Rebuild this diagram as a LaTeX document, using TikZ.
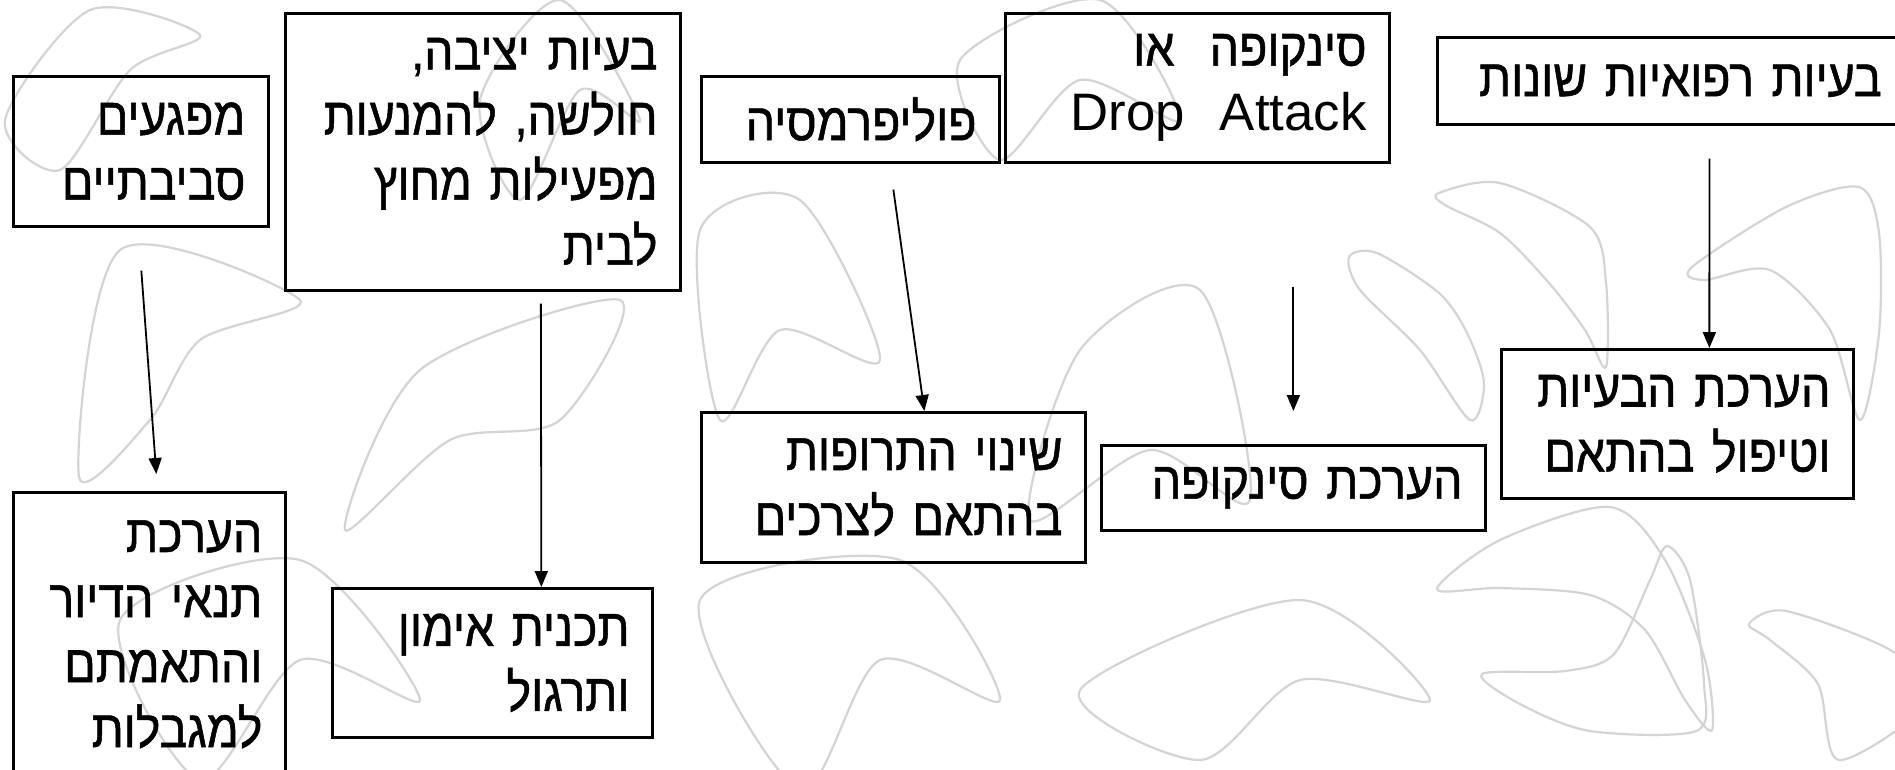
\documentclass[tikz,border=0pt]{standalone}
\usepackage{fontspec}
\setmainfont{Liberation Sans}
\newfontfamily\hebfont[Script=Hebrew, FakeStretch=0.88, FakeBold=1]{Liberation Sans}
\TeXXeTstate=1
\usetikzlibrary{arrows.meta,calc}

% one right-to-left line, never broken
\newcommand{\heb}[1]{\leavevmode\hbox{\hebfont\beginR#1\endR}}

\tikzset{
  box/.style={draw, line width=0.025cm, inner xsep=0.23cm, inner ysep=0pt,
    align=right, anchor=north west, font=\fontsize{15}{18.5}\selectfont},
  flow/.style={-{Triangle[length=0.16cm,width=0.13cm]}, line width=0.018cm},
  swirl/.style={black!17, line width=0.022cm},
}

\begin{document}
\begin{tikzpicture}[x=0.01cm, y=-0.01cm]
\fill[white] (0,0) rectangle (1895,769);
\clip (0,0) rectangle (1895,769);
% background squiggles
\draw[swirl] plot[smooth cycle] coordinates {(5,120) (90,10) (200,35) (130,70) (60,170)};
\draw[swirl] plot[smooth cycle] coordinates {(79,477) (120,250) (300,300) (200,340) (150,420)};
\draw[swirl] plot[smooth cycle] coordinates {(345,530) (420,370) (620,300) (560,420) (450,440)};
\draw[swirl] plot[smooth cycle] coordinates {(700,230) (800,200) (880,360) (780,330) (720,420)};
\draw[swirl] plot[smooth cycle] coordinates {(1080,350) (1200,290) (1250,500) (1150,450) (1030,520)};
\draw[swirl] plot[smooth cycle] coordinates {(1080,690) (1300,600) (1430,700) (1300,680) (1200,760)};
\draw[swirl] plot[smooth cycle] coordinates {(120,620) (300,560) (420,700) (300,660) (200,780)};
\draw[swirl] plot[smooth cycle] coordinates {(700,600) (900,560) (1000,700) (880,660) (800,790)};
\draw[swirl] plot[smooth cycle] coordinates {(480,100) (560,0) (640,120) (580,90) (520,200)};
\draw[swirl] plot[smooth cycle] coordinates {(960,60) (1100,0) (1180,120) (1080,80) (1000,160)};
\draw[swirl] plot[smooth cycle] coordinates {(1437,589) (1500,540) (1610,507) (1665,560) (1705,660) (1712,730) (1685,700) (1645,630) (1590,595) (1500,588)};
\draw[swirl] plot[smooth cycle] coordinates {(1482,674) (1565,671) (1614,654) (1650,580) (1667,546) (1690,580) (1704,684) (1696,731) (1590,731) (1520,704)};
\draw[swirl] plot[smooth cycle] coordinates {(1749,624) (1786,611) (1892,651) (1930,700) (1839,760) (1818,684) (1770,640)};
\draw[swirl] plot[smooth cycle] coordinates {(1439,193) (1500,183) (1590,227) (1606,283) (1606,367) (1585,330) (1549,283) (1500,233) (1445,205)};
\draw[swirl] plot[smooth cycle] coordinates {(1692,267) (1786,207) (1859,187) (1879,233) (1879,333) (1860,420) (1830,330) (1770,270) (1704,280)};
\draw[swirl] plot[smooth cycle] coordinates {(1349,257) (1377,253) (1439,293) (1467,333) (1484,383) (1470,420) (1420,350) (1360,290)};

% causes (top row)
\node[box, text width=2.09cm, minimum height=1.50cm] (hazards) at (12,75) {\heb{מפגעים}\\\heb{סביבתיים}};
\node[box, text width=3.49cm, minimum height=2.77cm] (stability) at (284,12) {\heb{בעיות יציבה,}\\\heb{חולשה, להמנעות}\\\heb{מפעילות מחוץ}\\\heb{לבית}};
\node[box, text width=2.52cm, minimum height=0.86cm] (polypharm) at (700,75) {\heb{פוליפרמסיה}};
\node[box, text width=3.38cm, minimum height=1.49cm] (syncope) at (1004,12) {\heb{סינקופה\ \ או}\\Drop\ \ Attack};
\node[box, text width=4.21cm, minimum height=0.87cm] (medical) at (1436,36) {\heb{בעיות רפואיות שונות}};

% interventions
\node[box, text width=2.26cm, minimum height=2.84cm] (housing) at (12,491) {\heb{הערכת}\\\heb{תנאי הדיור}\\\heb{והתאמתם}\\\heb{למגבלות}};
\node[box, text width=2.74cm, minimum height=1.49cm] (training) at (331,587) {\heb{תכנית אימון}\\\heb{ותרגול}};
\node[box, text width=3.38cm, minimum height=1.50cm] (drugs) at (700,411) {\heb{שינוי התרופות}\\\heb{בהתאם לצרכים}};
\node[box, text width=3.38cm, minimum height=0.85cm] (syncEval) at (1100,444) {\heb{הערכת סינקופה}};
\node[box, text width=3.06cm, minimum height=1.49cm] (treatment) at (1500,348) {\heb{הערכת הבעיות}\\\heb{וטיפול בהתאם}};

% arrows
\draw[flow] ($(hazards.south)+(0.5,43)$) -- ($(housing.north)+(7,-17)$);
\draw[flow] ($(stability.south)+(58,12)$) -- ($(training.north)+(49,0)$);
\draw[flow] ($(polypharm.south)+(43,26)$) -- ($(drugs.north)+(31,0)$);
\draw[flow] ($(syncope.south)+(96,123)$) -- ($(syncEval.north)+(0,-33)$);
\draw[flow] ($(medical.south)+(38.5,33)$) -- ($(treatment.north)+(32,0)$);
\end{tikzpicture}
\end{document}
